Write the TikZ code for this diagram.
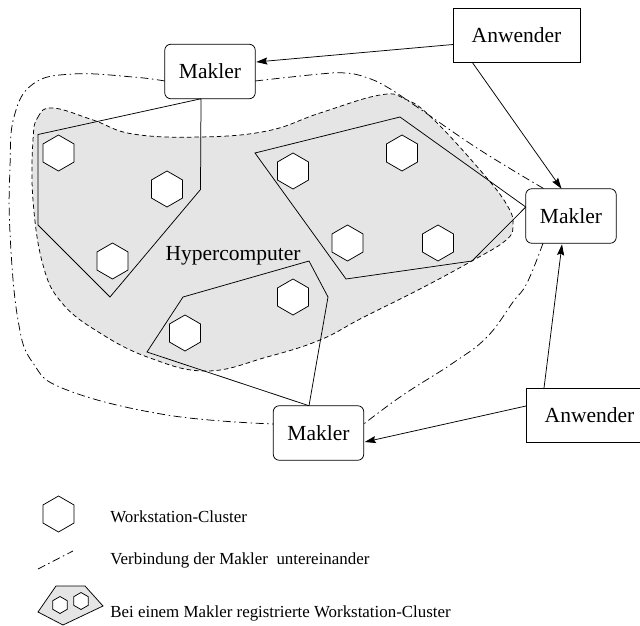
\documentclass[tikz,border=0pt]{standalone}
\usepackage{fontspec}
\setmainfont{Liberation Serif}
\usetikzlibrary{shapes.geometric,arrows.meta}
\definecolor{blob}{HTML}{E5E5E5}
\tikzset{
  x=1pt,y=-1pt,
  every path/.style={line width=0.75pt},
  hexa/.style={regular polygon,regular polygon sides=6,shape border rotate=30,draw,fill=white,minimum size=36pt,inner sep=0pt,outer sep=0pt},
  hexsmall/.style={regular polygon,regular polygon sides=6,shape border rotate=30,draw,fill=white,minimum size=17pt,inner sep=0pt,outer sep=0pt},
  broker/.style={draw,rounded corners=6pt,fill=white,minimum width=90.5pt,minimum height=54.5pt,inner sep=0pt,outer sep=0pt,font=\fontsize{21.5}{24}\selectfont},
  user/.style={draw,fill=white,minimum width=127pt,minimum height=54pt,inner sep=0pt,outer sep=0pt,font=\fontsize{21.5}{24}\selectfont},
  link/.style={dash pattern=on 8pt off 3.5pt on 1.5pt off 3.5pt},
  req/.style={-{Stealth[length=11pt,width=7pt,inset=1.5pt]}},
  legendtext/.style={anchor=west,inner sep=0pt,font=\fontsize{16.9}{19}\selectfont},
}
\begin{document}
\begin{tikzpicture}
\useasboundingbox (0,0) rectangle (640,626);
% Hypercomputer region
\draw[fill=blob,dash pattern=on 4.5pt off 3pt]
  plot[smooth cycle,tension=0.7] coordinates {(33,140) (38,117) (53,108) (93,120) (133,134) (200,137) (267,131) (320,113) (380,95) (405,99) (432,118) (480,170) (507,205) (513,226) (505,241) (470,262) (420,289) (362,318) (320,340) (267,357) (207,371) (150,358) (100,333) (62,303) (43,265) (33,200)};
% boxes
\node[broker] (m1) at (210,71.5) {Makler};
\node[broker] (m2) at (571,216) {Makler};
\node[broker] (m3) at (318.5,433) {Makler};
\node[user] (a1) at (516.5,35) {Anwender};
\node[user] (a2) at (589.5,415) {Anwender};
\node[font=\fontsize{21.5}{24}\selectfont,inner sep=0pt] (hc) at (233,256) {Hypercomputer};
% clusters
\draw ([xshift=-9pt]m1.south) -- (38,134.5) -- (38,225) -- (110,297) -- (200.5,189.5) -- ([xshift=-9pt]m1.south);
\draw (m2.west |- 0,207) -- (400,117) -- (255,153) -- (346,279) -- (472,261) -- (m2.west |- 0,207);
\draw ([xshift=-9.5pt]m3.north) -- (328,297) -- (309,261) -- (183,297) -- (147,352) -- ([xshift=-9.5pt]m3.north);
% hexagons
\node[hexa] (h1) at (58.5,153) {};
\node[hexa] (h2) at (167,189) {};
\node[hexa] (h3) at (112.5,261) {};
\node[hexa] (h4) at (293,171) {};
\node[hexa] (h5) at (402,153) {};
\node[hexa] (h6) at (347.5,243) {};
\node[hexa] (h7) at (438,243) {};
\node[hexa] (h8) at (293,297) {};
\node[hexa] (h9) at (185,333) {};
% anchors of the broker links
\coordinate (l1a) at ([yshift=-9.5pt]m1.west);
\coordinate (l1b) at ([yshift=9pt]m3.west);
\coordinate (l2a) at ([yshift=-9.5pt]m1.east);
\coordinate (l2b) at ([xshift=-27pt]m2.north);
\coordinate (l3a) at ([xshift=-28pt]m2.south);
\coordinate (l3b) at ([yshift=9pt]m3.east);
% broker links
\draw[link] plot[smooth,tension=0.7] coordinates {(l1a) (133,77) (73,74) (33,84) (14,117) (10,167) (10,233) (18,320) (33,363) (67,390) (167,415) (l1b)};
\draw[link] plot[smooth,tension=0.7] coordinates {(l2a) (320,74) (345,73) (365,77) (387,87) (420,109) (480,150) (l2b)};
\draw[link] plot[smooth,tension=0.7] coordinates {(l3a) (527,283) (513,302) (487,337) (453,363) (403,395) (l3b)};
% requests
\draw[req] ([yshift=-9.5pt]a1.west) -- ([xshift=1pt,yshift=9.5pt]m1.east);
\draw[req] ([xshift=-44.5pt]a1.south) -- ([xshift=-9.5pt]m2.north);
\draw[req] ([xshift=-45.5pt]a2.north) -- ([xshift=-9pt,yshift=-1pt]m2.south);
\draw[req] ([yshift=9pt]a2.west) -- ([xshift=1pt,yshift=-9pt]m3.east);
% legend
\node[hexa,fill=none] (lh) at (58.5,514) {};
\node[legendtext] (lt1) at (110,517) {Workstation-Cluster};
\coordinate (ld1) at (38,569);
\coordinate (ld2) at (73,551);
\draw[link] (ld1) -- (ld2);
\node[legendtext] (lt2) at (110,560) {Verbindung der Makler\ \ untereinander};
\draw[fill=blob] (56,586) -- (85,586) -- (103,606) -- (63,625) -- (38,612) -- cycle;
\node[hexsmall] (ls1) at (60,605) {};
\node[hexsmall] (ls2) at (81,601) {};
\node[legendtext] (lt3) at (110,613) {Bei einem Makler registrierte Workstation-Cluster};
\end{tikzpicture}
\end{document}
